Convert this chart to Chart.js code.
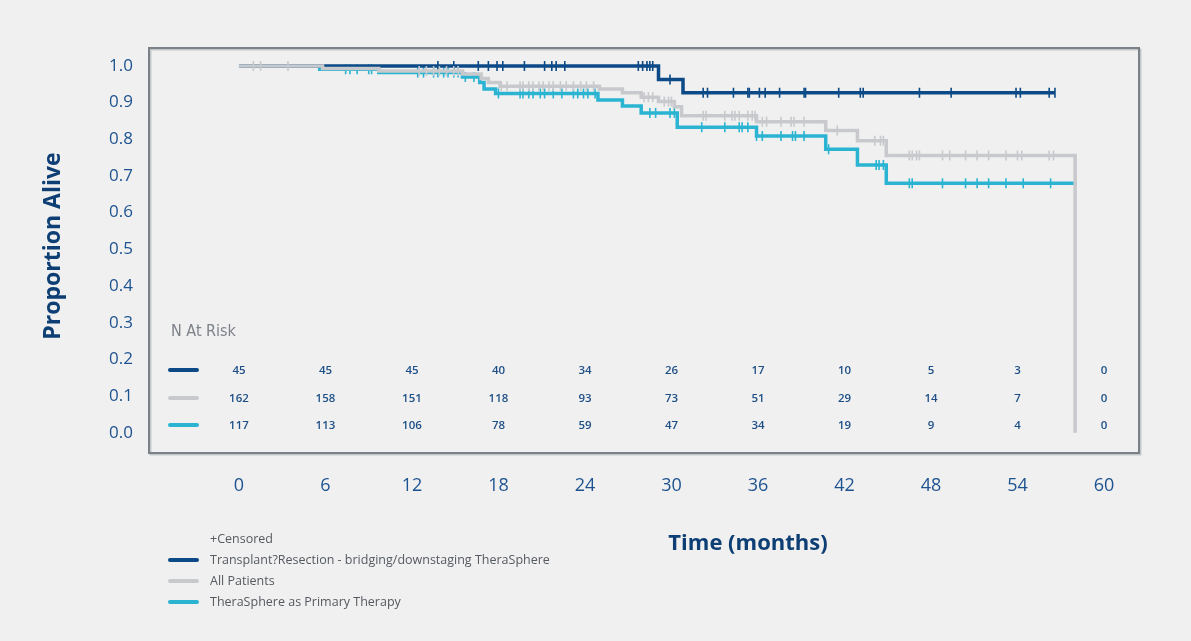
<!DOCTYPE html>
<html>
<head>
<meta charset="utf-8">
<script src="https://cdn.jsdelivr.net/npm/chart.js@4"></script>
<style>
html,body{margin:0;padding:0;background:#f0f0f0;}
canvas{display:block;}
</style>
</head>
<body>
<canvas id="c" width="1191" height="641"></canvas>
<script>
// ---- Data ----
const seriesLabels = ["Transplant?Resection - bridging/downstaging TheraSphere", "All Patients", "TheraSphere as Primary Therapy"];

const transplantTimes  = [0, 29.1, 30.8, 56.6];
const transplantValues = [1.0, 0.963, 0.927, 0.927];
const transplantCensor = [13.8, 14.9, 16.6, 17.3, 17.9, 18.3, 19.8, 21.2, 21.7, 22.0, 22.6, 27.7, 28.0, 28.3, 28.5, 28.7, 29.9, 32.2, 32.5, 34.3, 35.3, 35.4, 36.1, 36.5, 37.5, 39.2, 39.3, 41.6, 43.1, 43.3, 47.2, 49.4, 53.9, 54.2, 56.2, 56.6];

const allTimes  = [0, 5.8, 9.7, 15.5, 16.8, 17.3, 18.1, 25.0, 26.6, 27.9, 29.1, 30.2, 30.7, 35.9, 40.7, 42.9, 44.9, 58.0, 58.0];
const allValues = [1.0, 0.993, 0.986, 0.978, 0.966, 0.955, 0.945, 0.937, 0.927, 0.915, 0.903, 0.889, 0.864, 0.848, 0.824, 0.796, 0.756, 0.756, 0.0];
const allCensor = [1.0, 1.5, 3.4, 12.5, 13.0, 13.5, 13.9, 14.4, 14.9, 15.2, 18.2, 18.6, 19.5, 19.7, 20.1, 20.4, 20.8, 21.1, 21.5, 21.8, 22.3, 22.7, 23.2, 23.7, 24.1, 24.6, 28.1, 28.4, 28.7, 29.5, 29.8, 30.0, 32.2, 32.4, 33.7, 34.2, 34.4, 34.7, 35.3, 35.6, 35.8, 36.3, 36.6, 37.6, 38.3, 38.5, 39.2, 41.5, 44.1, 44.5, 44.7, 46.5, 46.7, 47.0, 47.2, 48.8, 49.3, 50.4, 51.2, 52.0, 53.2, 54.0, 54.3, 56.2, 56.5];

const primaryTimes  = [0, 5.6, 9.7, 15.5, 16.7, 17.0, 17.8, 24.9, 26.6, 27.9, 30.4, 35.9, 40.7, 42.9, 44.9, 58.1];
const primaryValues = [1.0, 0.991, 0.982, 0.970, 0.955, 0.937, 0.925, 0.907, 0.891, 0.872, 0.833, 0.809, 0.773, 0.730, 0.680, 0.680];
const primaryCensor = [7.4, 7.7, 8.2, 9.0, 9.2, 12.4, 12.8, 13.5, 13.8, 14.2, 14.5, 14.9, 15.2, 15.7, 16.3, 18.0, 19.5, 19.7, 20.1, 20.4, 20.9, 21.2, 21.8, 22.4, 23.2, 23.5, 23.9, 24.2, 24.7, 28.5, 28.9, 29.9, 30.2, 32.1, 33.7, 34.7, 34.9, 35.3, 35.9, 36.3, 37.6, 38.4, 38.6, 39.2, 40.9, 44.2, 44.4, 44.7, 46.5, 46.7, 48.8, 50.4, 51.2, 52.0, 53.2, 54.4, 56.3];

const xTicks = [0, 6, 12, 18, 24, 30, 36, 42, 48, 54, 60];
const yTicks = [0, 0.1, 0.2, 0.3, 0.4, 0.5, 0.6, 0.7, 0.8, 0.9, 1.0];

const atRiskTransplant = [45, 45, 45, 40, 34, 26, 17, 10, 5, 3, 0];
const atRiskAll        = [162, 158, 151, 118, 93, 73, 51, 29, 14, 7, 0];
const atRiskPrimary    = [117, 113, 106, 78, 59, 47, 34, 19, 9, 4, 0];

// ---- Styles ----
const COL_DARK = '#0b4a86';
const COL_GRAY = '#c8c9cd';
const COL_CYAN = '#2ab4d2';
const TEXT_BLUE = '#1d5390';
const TITLE_BLUE = '#0e3f74';

function stepValue(times, vals, t) {
  let v = vals[0];
  for (let i = 0; i < times.length; i++) { if (times[i] <= t) v = vals[i]; }
  return v;
}
const toPts = (ts, vs) => ts.map((t, i) => ({x: t, y: vs[i]}));
const censorPts = (cs, ts, vs) => cs.map(t => ({x: t, y: stepValue(ts, vs, t)}));

const curveDS = (label, ts, vs, color, order) => ({
  label, data: toPts(ts, vs), borderColor: color, backgroundColor: color,
  borderWidth: 3.5, stepped: true, pointRadius: 0, fill: false, order
});
const censorDS = (cs, ts, vs, color, order) => ({
  label: 'censor', data: censorPts(cs, ts, vs), showLine: false,
  pointStyle: 'line', rotation: 90, pointRadius: 5, pointBorderWidth: 1.6,
  pointBorderColor: color, pointBackgroundColor: color, borderColor: color, order
});

const rows = [
  {color: COL_DARK, values: atRiskTransplant},
  {color: COL_GRAY, values: atRiskAll},
  {color: COL_CYAN, values: atRiskPrimary}
];

const decor = {
  id: 'decor',
  beforeDraw(chart) {
    const ctx = chart.ctx;
    ctx.save();
    ctx.fillStyle = '#f0f0f0';
    ctx.fillRect(0, 0, chart.width, chart.height);
    ctx.restore();
  },
  beforeDatasetsDraw(chart) {
    const ctx = chart.ctx, a = chart.chartArea;
    ctx.save();
    ctx.strokeStyle = '#c4c7ca';
    ctx.lineWidth = 2;
    ctx.strokeRect(a.left + 1.5, a.top + 1.5, a.right - a.left, a.bottom - a.top);
    ctx.strokeStyle = '#7b8188';
    ctx.lineWidth = 2;
    ctx.strokeRect(a.left, a.top, a.right - a.left, a.bottom - a.top);
    ctx.restore();
  },
  afterDraw(chart) {
    const ctx = chart.ctx, xs = chart.scales.x;
    ctx.save();
    // N At Risk table
    ctx.fillStyle = '#7d8288';
    ctx.font = '16px "Liberation Sans Narrow", "DejaVu Sans Condensed", sans-serif';
    ctx.textAlign = 'left'; ctx.textBaseline = 'middle';
    ctx.fillText('N At Risk', 171, 332);
    const rowY = [370, 398, 425];
    rows.forEach((r, i) => {
      ctx.strokeStyle = r.color; ctx.lineWidth = 4; ctx.lineCap = 'round';
      ctx.beginPath(); ctx.moveTo(170, rowY[i]); ctx.lineTo(197, rowY[i]); ctx.stroke();
      ctx.fillStyle = '#1d4f86';
      ctx.font = '600 11.5px "Open Sans", sans-serif';
      ctx.textAlign = 'center';
      r.values.forEach((v, j) => ctx.fillText(String(v), xs.getPixelForValue(xTicks[j]), rowY[i] + 1));
    });
    // Axis titles
    ctx.fillStyle = TITLE_BLUE;
    ctx.font = 'bold 22px "Open Sans", sans-serif';
    ctx.textAlign = 'center'; ctx.textBaseline = 'middle';
    ctx.fillText('Time (months)', 748, 544);
    ctx.save();
    ctx.font = 'bold 23px "Open Sans", sans-serif';
    ctx.translate(53, 246); ctx.rotate(-Math.PI / 2);
    ctx.fillText('Proportion Alive', 0, 0);
    ctx.restore();
    // Legend
    ctx.font = '12.5px "Open Sans", sans-serif';
    ctx.textAlign = 'left';
    ctx.fillStyle = '#555a60';
    ctx.fillText('+Censored', 210, 539);
    const legY = [560, 581, 602];
    const legCols = [COL_DARK, COL_GRAY, COL_CYAN];
    seriesLabels.forEach((lab, i) => {
      ctx.strokeStyle = legCols[i]; ctx.lineWidth = 4; ctx.lineCap = 'round';
      ctx.beginPath(); ctx.moveTo(170, legY[i]); ctx.lineTo(197, legY[i]); ctx.stroke();
      ctx.fillStyle = '#555a60';
      ctx.fillText(lab, 210, legY[i]);
    });
    ctx.restore();
  }
};

new Chart(document.getElementById('c'), {
  type: 'line',
  data: {
    datasets: [
      curveDS(seriesLabels[1], allTimes, allValues, COL_GRAY, 0),
      censorDS(allCensor, allTimes, allValues, COL_GRAY, 1),
      curveDS(seriesLabels[0], transplantTimes, transplantValues, COL_DARK, 2),
      censorDS(transplantCensor, transplantTimes, transplantValues, COL_DARK, 3),
      curveDS(seriesLabels[2], primaryTimes, primaryValues, COL_CYAN, 4),
      censorDS(primaryCensor, primaryTimes, primaryValues, COL_CYAN, 5)
    ]
  },
  options: {
    responsive: false,
    animation: false,
    devicePixelRatio: 1,
    layout: {padding: {left: 0, top: 48, right: 52, bottom: 0}},
    plugins: {legend: {display: false}, tooltip: {enabled: false}},
    scales: {
      x: {
        type: 'linear', min: -6.24, max: 62.43,
        grid: {display: false, drawTicks: false},
        border: {display: false},
        afterBuildTicks: s => { s.ticks = xTicks.map(v => ({value: v})); },
        afterFit: s => { s.height = 188; },
        ticks: {
          padding: 22, color: TEXT_BLUE, maxRotation: 0, autoSkip: false,
          font: {family: '"Open Sans", sans-serif', size: 18},
          callback: v => String(v)
        }
      },
      y: {
        type: 'linear', min: -0.0554, max: 1.049,
        grid: {display: false, drawTicks: false},
        border: {display: false},
        afterBuildTicks: s => { s.ticks = yTicks.map(v => ({value: v})); },
        afterFit: s => { s.width = 149; },
        ticks: {
          padding: 16, color: TEXT_BLUE, autoSkip: false,
          font: {family: '"Open Sans", sans-serif', size: 17},
          callback: v => Number(v).toFixed(1)
        }
      }
    }
  },
  plugins: [decor]
});
</script>
</body>
</html>
